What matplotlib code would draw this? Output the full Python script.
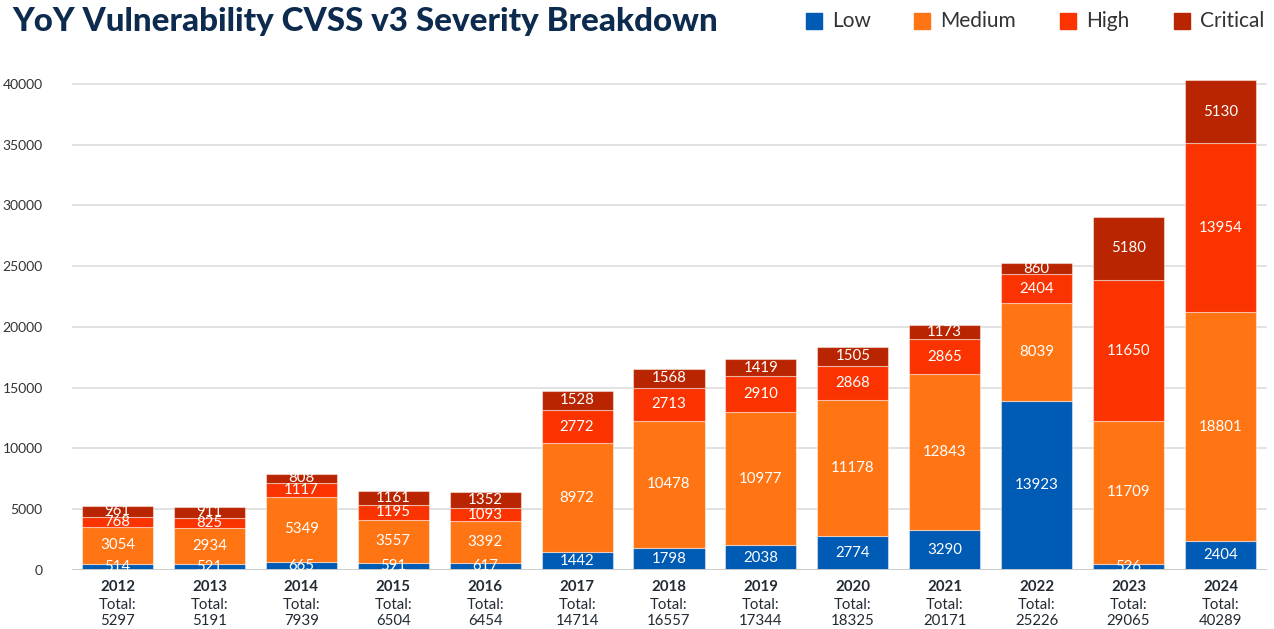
import matplotlib
matplotlib.use("Agg")
import matplotlib.pyplot as plt
from matplotlib.patches import Rectangle
import numpy as np

years = ["2012", "2013", "2014", "2015", "2016", "2017", "2018", "2019", "2020", "2021", "2022", "2023", "2024"]
low = [514, 521, 665, 591, 617, 1442, 1798, 2038, 2774, 3290, 13923, 526, 2404]
medium = [3054, 2934, 5349, 3557, 3392, 8972, 10478, 10977, 11178, 12843, 8039, 11709, 18801]
high = [768, 825, 1117, 1195, 1093, 2772, 2713, 2910, 2868, 2865, 2404, 11650, 13954]
critical = [961, 911, 808, 1161, 1352, 1528, 1568, 1419, 1505, 1173, 860, 5180, 5130]
series_names = ["Low", "Medium", "High", "Critical"]
colors = ["#005bb5", "#ff7514", "#fa3300", "#b82500"]
yticks = [0, 5000, 10000, 15000, 20000, 25000, 30000, 35000, 40000]
title = "YoY Vulnerability CVSS v3 Severity Breakdown"

plt.rcParams['font.family'] = ['Lato', 'DejaVu Sans']

W, H = 1274, 629
PX = 72 / 100  # points per pixel
fig = plt.figure(figsize=(W / 100, H / 100), dpi=100)
ax = fig.add_axes([72 / W, 1 - 570 / H, 1195 / W, 490.9 / H])

series = [low, medium, high, critical]
x = np.arange(len(years))
bottom = np.zeros(len(years))
for name, vals, c in zip(series_names, series, colors):
    vals = np.array(vals, dtype=float)
    ax.bar(x, vals, 0.773, bottom=bottom, color=c, edgecolor=(1, 1, 1, 0.45),
           linewidth=0.8, zorder=3, label=name)
    for xi, b, v in zip(x, bottom, vals):
        ax.text(xi, b + v / 2, f"{int(v)}", ha="center", va="center",
                color="white", fontsize=10.8, zorder=5)
    bottom += vals

ax.set_xlim(-0.495, 12.506)
ax.set_ylim(0, 40400)
ax.set_yticks(yticks)
ax.set_yticklabels([str(t) for t in yticks], fontsize=10, color="#333333")
ax.tick_params(axis="y", length=0, pad=21)
ax.grid(axis="y", color="#dddddd", linewidth=1.2, zorder=0)
for s in ax.spines.values():
    s.set_visible(False)
ax.axhline(0, color="#cccccc", linewidth=1.4, zorder=4)
ax.set_xticks([])

totals = bottom
trans = ax.get_xaxis_transform()
for xi, yr, t in zip(x, years, totals):
    ax.annotate(yr, (xi, 0), xycoords=trans, xytext=(0, -17 * PX), textcoords="offset points",
                ha="center", va="center", fontsize=10.8, fontweight="bold", color="#222a33")
    ax.annotate("Total:", (xi, 0), xycoords=trans, xytext=(0, -35 * PX), textcoords="offset points",
                ha="center", va="center", fontsize=10.8, color="#222a33")
    ax.annotate(f"{int(t)}", (xi, 0), xycoords=trans, xytext=(0, -51 * PX), textcoords="offset points",
                ha="center", va="center", fontsize=10.8, color="#222a33")

fig.text(12 / W, 1 - 21 / H, title, ha="left", va="center", fontsize=23.9,
         fontweight="black", color="#0d2b4e")

legend_x = [806, 914, 1060, 1174]
for lx, name, c in zip(legend_x, series_names, colors):
    fig.patches.append(Rectangle((lx / W, 1 - 29 / H), 16 / W, 16 / H,
                                 transform=fig.transFigure, color=c, figure=fig))
    fig.text((lx + 26) / W, 1 - 21 / H, name, ha="left", va="center",
             fontsize=15, color="#333333")

fig.savefig("out.png", dpi=100)
